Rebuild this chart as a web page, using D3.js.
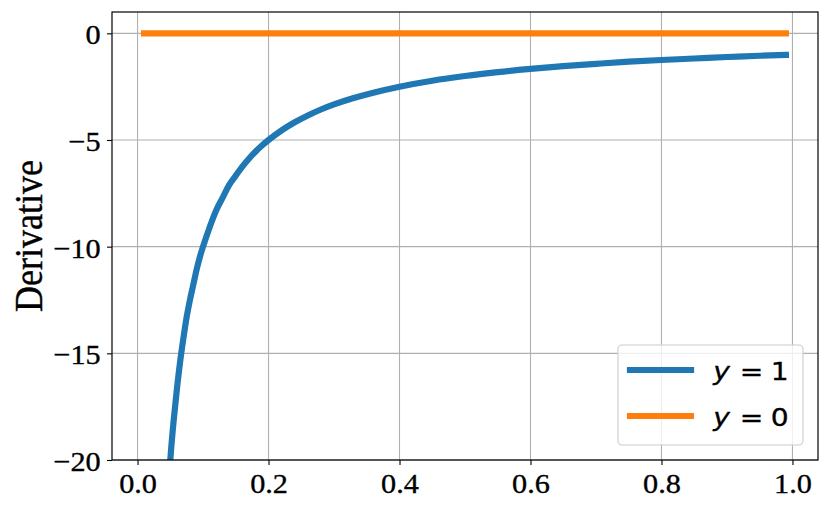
<!DOCTYPE html>
<html>
<head>
<meta charset="utf-8">
<script src="https://cdn.jsdelivr.net/npm/d3@7"></script>
<style>
  html, body { margin: 0; padding: 0; background: #fff; }
  svg { display: block; }
</style>
</head>
<body>
<svg id="chart" width="830" height="512"></svg>
<script>
// ---- data ----
const seriesNames = ["y = 1", "y = 0"];
const xY1 = [0.04, 0.05, 0.055, 0.06, 0.065, 0.07, 0.075, 0.08, 0.085, 0.09, 0.095, 0.10, 0.11, 0.12, 0.13, 0.14, 0.15, 0.16, 0.17, 0.18, 0.19, 0.20, 0.22, 0.24, 0.26, 0.28, 0.30, 0.33, 0.36, 0.40, 0.45, 0.50, 0.55, 0.60, 0.65, 0.70, 0.75, 0.80, 0.85, 0.90, 0.95, 0.99];
const yY1 = [-25, -20, -18.2, -16.7, -15.4, -14.3, -13.3, -12.5, -11.8, -11.1, -10.5, -10, -9.1, -8.3, -7.7, -7.1, -6.67, -6.25, -5.88, -5.55, -5.26, -5, -4.55, -4.17, -3.85, -3.57, -3.33, -3.03, -2.78, -2.5, -2.22, -2, -1.82, -1.67, -1.54, -1.43, -1.33, -1.25, -1.18, -1.11, -1.05, -1.01];
const xY0 = [0.01, 0.25, 0.5, 0.75, 0.99];
const yY0 = [0, 0, 0, 0, 0];
const xTicks = [0.0, 0.2, 0.4, 0.6, 0.8, 1.0];
const yTicks = [0, -5, -10, -15, -20];
const yLabel = "Derivative";

// ---- layout ----
const colors = ["#1f77b4", "#ff7f0e"];
const L = 112, R = 818, T = 12, B = 460;
const SX = 1.08; // horizontal glyph stretch seen in the picture
const svg = d3.select("#chart");
const x = d3.scaleLinear().domain([-0.039, 1.039]).range([L, R]);
const y = d3.scaleLinear().domain([-20, 1]).range([B, T]);

const tickFont = "'Liberation Serif', 'Times New Roman', serif";

// grid
const grid = svg.append("g");
grid.selectAll("line.gx").data(xTicks).join("line")
  .attr("x1", d => x(d)).attr("x2", d => x(d)).attr("y1", T).attr("y2", B)
  .attr("stroke", "#b0b0b0").attr("stroke-width", 1.1);
grid.selectAll("line.gy").data(yTicks).join("line")
  .attr("y1", d => y(d)).attr("y2", d => y(d)).attr("x1", L).attr("x2", R)
  .attr("stroke", "#b0b0b0").attr("stroke-width", 1.1);

// clip
svg.append("clipPath").attr("id", "clip").append("rect")
  .attr("x", L).attr("y", T).attr("width", R - L).attr("height", B - T);

const line = d3.line().x(d => x(d[0])).y(d => y(d[1])).curve(d3.curveCatmullRom.alpha(0.5));
const plot = svg.append("g").attr("clip-path", "url(#clip)");
plot.append("path").datum(d3.zip(xY1, yY1)).attr("d", line)
  .attr("fill", "none").attr("stroke", colors[0]).attr("stroke-width", 6.2)
  .attr("stroke-linecap", "square").attr("stroke-linejoin", "round");
plot.append("path").datum(d3.zip(xY0, yY0)).attr("d", line)
  .attr("fill", "none").attr("stroke", colors[1]).attr("stroke-width", 6.2)
  .attr("stroke-linecap", "square");

// axes
const xAxis = d3.axisBottom(x).tickValues(xTicks).tickFormat(d3.format(".1f")).tickSize(5).tickPadding(8);
const yAxis = d3.axisLeft(y).tickValues(yTicks).tickFormat(d => d < 0 ? "\u2212" + Math.abs(d) : String(d)).tickSize(5).tickPadding(6);
const gx = svg.append("g").attr("transform", `translate(0,${B})`).call(xAxis);
const gy = svg.append("g").attr("transform", `translate(${L},0)`).call(yAxis);
[gx, gy].forEach(g => {
  g.select(".domain").remove();
  g.selectAll(".tick line").attr("stroke", "#000").attr("stroke-width", 1.1);
  g.selectAll(".tick text").attr("fill", "#000")
    .attr("stroke", "#000").attr("stroke-width", 0.35)
    .style("font-family", tickFont).style("font-size", "28px");
});
gx.selectAll(".tick text").attr("transform", `scale(${SX},1)`).attr("y", 13).attr("dy", "0.71em");
gy.selectAll(".tick text").attr("x", 0).attr("dy", "0.37em")
  .attr("transform", `translate(-11.3,0) scale(${SX},1)`);

// frame
svg.append("rect").attr("x", L).attr("y", T).attr("width", R - L).attr("height", B - T)
  .attr("fill", "none").attr("stroke", "#000").attr("stroke-width", 1.2);

// y label
svg.append("text").attr("transform", `translate(42,${(T + B) / 2}) rotate(-90) scale(1,1.1)`)
  .attr("text-anchor", "middle").style("font-family", tickFont).style("font-size", "36px")
  .attr("stroke", "#000").attr("stroke-width", 0.35)
  .attr("fill", "#000").text(yLabel);

// legend
const lg = svg.append("g");
lg.append("rect").attr("x", 618).attr("y", 345).attr("width", 185).attr("height", 100)
  .attr("rx", 4).attr("fill", "#fff").attr("fill-opacity", 0.8)
  .attr("stroke", "#cccccc").attr("stroke-width", 1.1);
const legFont = "'DejaVu Sans', sans-serif";
seriesNames.forEach((name, i) => {
  const yy = 370 + i * 46;
  const base = 379.5 + i * 46;
  lg.append("line").attr("x1", 630).attr("x2", 691).attr("y1", yy).attr("y2", yy)
    .attr("stroke", colors[i]).attr("stroke-width", 6.2).attr("stroke-linecap", "square");
  const parts = name.split(" = ");
  const pieces = [
    { t: parts[0], cx: 721.7, italic: true },
    { t: "=", cx: 751.5, italic: false },
    { t: parts[1], cx: 779.7, italic: false }
  ];
  pieces.forEach(p => {
    lg.append("text").attr("transform", `translate(${p.cx},${base}) scale(1.15,1)`)
      .attr("text-anchor", "middle")
      .style("font-family", legFont).style("font-size", "24.5px")
      .style("font-style", p.italic ? "italic" : "normal")
      .attr("stroke", "#000").attr("stroke-width", 0.3)
      .attr("fill", "#000").text(p.t);
  });
});
</script>
</body>
</html>
